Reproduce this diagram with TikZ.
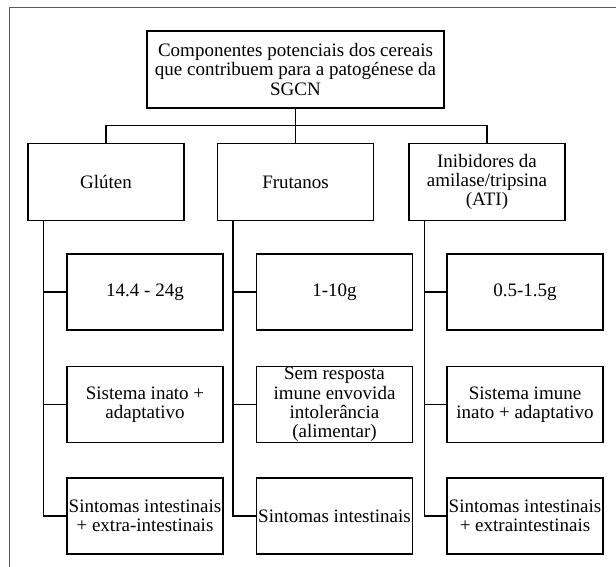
\documentclass[tikz,border=0pt]{standalone}
\usepackage{fontspec}
\setmainfont{Liberation Serif}
\usetikzlibrary{positioning}

\begin{document}
\begin{tikzpicture}[
		font=\fontsize{19}{19.2}\selectfont,
		line width=1.5pt,
		blk/.style={
			draw, inner xsep=1pt, inner ysep=0pt,
			minimum width=156pt, minimum height=76pt, align=center
		}
		]
		\useasboundingbox (0,0) rectangle (616pt,-567pt);
		% ---- Rahmen (nur oben und links)
		\draw[black!65, line width=1pt] (616pt,-7.5pt) -- (9.5pt,-7.5pt) -- (9.5pt,-567pt);
		
		% ---- Wurzel
		\node[blk, minimum width=297pt, minimum height=77pt] (top) at (295.5pt,-69.5pt)
			{Componentes potenciais dos cereais\\que contribuem para a patogénese da\\SGCN};
		
		% ---- erste Ebene
		\node[blk, minimum height=77pt, below=34pt of top] (fru) {Frutanos};
		\node[blk, minimum height=77pt, left=32pt of fru]  (glu) {Glúten};
		\node[blk, minimum height=77pt, right=34pt of fru] (ati) {Inibidores da\\amilase/tripsina\\(ATI)};
		
		% ---- Spalten
		\node[blk, below=32pt of glu, xshift=39pt] (glu2) {14.4 - 24g};
		\node[blk, below=35pt of glu2]             (glu3) {Sistema inato +\\adaptativo};
		\node[blk, below=34pt of glu3]             (glu4) {Sintomas intestinais\\+ extra-intestinais};
		
		\node[blk, below=32pt of fru, xshift=39pt] (fru2) {1-10g};
		\node[blk, below=35pt of fru2]             (fru3) {Sem resposta\\imune envovida\\intolerância\\(alimentar)};
		\node[blk, below=34pt of fru3]             (fru4) {Sintomas intestinais};
		
		\node[blk, below=32pt of ati, xshift=38pt] (ati2) {0.5-1.5g};
		\node[blk, below=35pt of ati2]             (ati3) {Sistema imune\\inato + adaptativo};
		\node[blk, below=34pt of ati3]             (ati4) {Sintomas intestinais\\+ extraintestinais};
		
		% ---- Verbindungen
		\draw (top) -- (fru);
		\draw (glu.north) -- ++(0,17pt) -| (ati.north);
		\foreach \c in {glu,fru,ati}
			\foreach \k in {2,3,4}
				\draw ([xshift=16pt]\c.south west) |- (\c\k.west);
	\end{tikzpicture}
\end{document}
